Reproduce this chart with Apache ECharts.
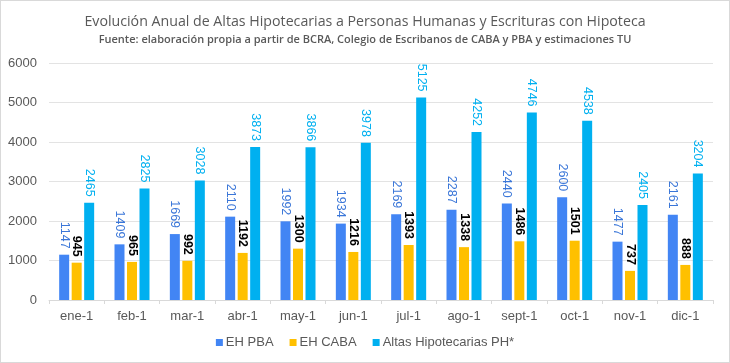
<!DOCTYPE html>
<html><head><meta charset="utf-8">
<script src="https://cdn.jsdelivr.net/npm/echarts@6/dist/echarts.min.js"></script>
<style>html,body{margin:0;padding:0;background:#fff}#c{width:728px;height:361px;border:1px solid #d9d9d9}</style>
</head><body><div id="c"></div>
<script>
const categories = ['ene-1','feb-1','mar-1','abr-1','may-1','jun-1','jul-1','ago-1','sept-1','oct-1','nov-1','dic-1'];
const ehPBA = [1147,1409,1669,2110,1992,1934,2169,2287,2440,2600,1477,2161];
const ehCABA = [945,965,992,1192,1300,1216,1393,1338,1486,1501,737,888];
const altasPH = [2465,2825,3028,3873,3866,3978,5125,4252,4746,4538,2405,3204];
const seriesNames = ['EH PBA','EH CABA','Altas Hipotecarias PH*'];
const yTicks = {min:0, max:6000, interval:1000};

const font = '"Open Sans", "Noto Sans", sans-serif';
const arial = 'Arial, "Liberation Sans", sans-serif';
const chart = echarts.init(document.getElementById('c'));
function lbl(color, weight){
  return {show:true, position:'top', rotate:-90, align:'right', verticalAlign:'middle', distance:6,
    color:color, fontWeight:weight, fontSize:12.5, fontFamily:arial};
}
chart.setOption({
  animation:false,
  title:{text:'Evolución Anual de Altas Hipotecarias a Personas Humanas y Escrituras con Hipoteca',
    subtext:'Fuente: elaboración propia a partir de BCRA, Colegio de Escribanos de CABA y PBA y estimaciones TU',
    left:'center', top:9, itemGap:5,
    textStyle:{color:'#595959', fontSize:14.2, fontWeight:500, fontFamily:font},
    subtextStyle:{color:'#595959', fontSize:11, fontWeight:600, fontFamily:font}},
  legend:{bottom:8, left:'center', itemWidth:7, itemHeight:7, itemGap:16, icon:'rect',
    textStyle:{color:'#595959', fontSize:13, fontFamily:arial, padding:[0,0,0,-2]}},
  grid:{left:48, right:16, top:62, bottom:62, containLabel:false},
  xAxis:{type:'category', data:categories,
    axisLine:{lineStyle:{color:'#d9d9d9'}}, axisTick:{show:true, length:4, lineStyle:{color:'#d9d9d9'}},
    axisLabel:{color:'#595959', fontSize:13, margin:10, fontFamily:arial}},
  yAxis:{type:'value', min:yTicks.min, max:yTicks.max, interval:yTicks.interval,
    axisLabel:{color:'#595959', fontSize:13, margin:12, fontFamily:arial, formatter:v=>String(v)},
    splitLine:{lineStyle:{color:'#e3e3e3'}}},
  series:[
    {name:seriesNames[0], type:'bar', data:ehPBA, barWidth:10, barGap:'25%', itemStyle:{color:'#4285F4'}, label:lbl('#3A76D8','normal')},
    {name:seriesNames[1], type:'bar', data:ehCABA, barWidth:10, barGap:'25%', itemStyle:{color:'#FFC000'}, label:lbl('#000000','bold')},
    {name:seriesNames[2], type:'bar', data:altasPH, barWidth:10, barGap:'25%', itemStyle:{color:'#00B0F0'}, label:lbl('#00B0F0','normal')}
  ]
});
</script></body></html>
